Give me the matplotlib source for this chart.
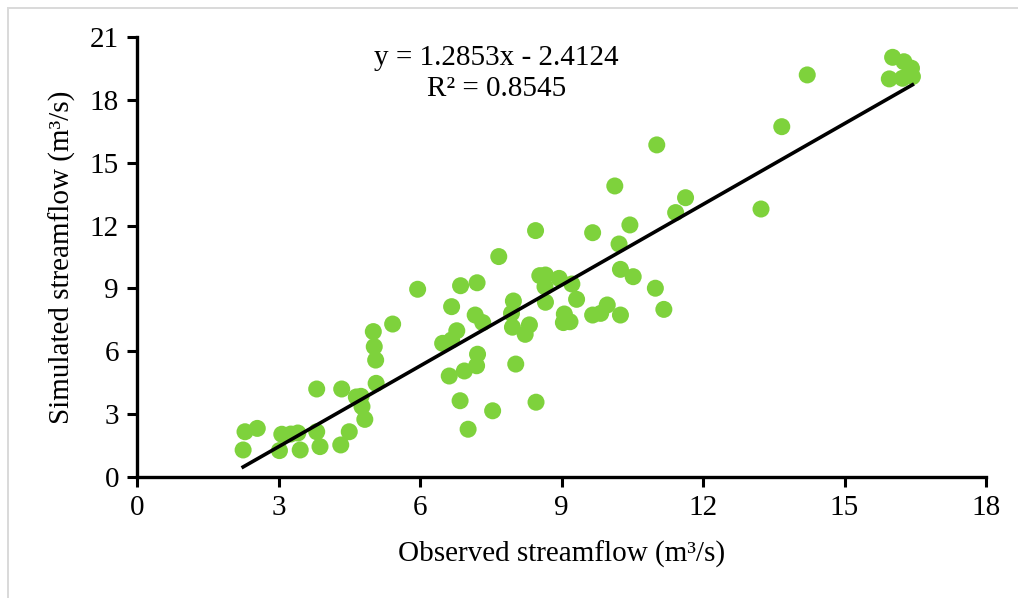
import matplotlib
matplotlib.use("Agg")
import matplotlib.pyplot as plt
from matplotlib.patches import Rectangle
import numpy as np

# observed vs simulated streamflow (m3/s)
observed = [2.25, 2.29, 2.55, 3.02, 3.07, 3.26, 3.41, 3.46, 3.81, 3.81,
            3.88, 4.34, 4.32, 4.50, 4.65, 4.75, 4.77, 4.83, 5.01, 5.03,
            5.06, 5.07, 5.42, 5.95, 6.48, 6.67, 6.62, 6.67, 6.78, 6.86,
            6.85, 7.02, 6.94, 7.22, 7.20, 7.21, 7.17, 7.33, 7.54, 7.67,
            8.03, 7.98, 7.94, 7.96, 8.23, 8.32, 8.45, 8.46, 8.54, 8.66,
            8.65, 8.66, 8.95, 9.22, 9.32, 9.06, 9.04, 9.18, 9.66, 9.66,
            9.83, 9.97, 10.13, 10.22, 10.25, 10.25, 10.45, 10.52, 10.99, 11.02,
            11.17, 11.42, 11.63, 13.23, 13.67, 14.21, 15.95, 16.02, 16.23, 16.26,
            16.42, 16.44]
simulated = [1.29, 2.16, 2.32, 1.26, 2.04, 2.05, 2.10, 1.29, 4.20, 2.16,
             1.45, 4.20, 1.53, 2.16, 3.82, 3.85, 3.36, 2.75, 6.94, 6.22,
             5.58, 4.47, 7.30, 8.96, 6.38, 6.54, 4.82, 8.13, 6.98, 9.13,
             3.64, 2.28, 5.06, 5.86, 5.31, 9.27, 7.73, 7.37, 3.16, 10.52,
             5.39, 8.40, 7.81, 7.15, 6.81, 7.26, 11.76, 3.57, 9.61, 9.64,
             9.08, 8.34, 9.48, 9.21, 8.48, 7.78, 7.37, 7.41, 11.66, 7.73,
             7.81, 8.21, 13.89, 11.12, 9.91, 7.73, 12.03, 9.56, 9.01, 15.85,
             8.00, 12.62, 13.33, 12.79, 16.72, 19.19, 19.00, 20.03, 19.03, 19.82,
             19.51, 19.11]

slope = 1.2853
intercept = -2.4124
r2 = 0.8545
x_ticks = [0, 3, 6, 9, 12, 15, 18]
y_ticks = [0, 3, 6, 9, 12, 15, 18, 21]

plt.rcParams['font.family'] = ['Liberation Serif', 'DejaVu Serif']
fs = 21

fig = plt.figure(figsize=(10.18, 5.98), dpi=100)
# light outer frame (only left and top edges are inside the picture)
fig.patches.append(Rectangle((8 / 1018, -0.1), 1.2, 1 - 8 / 598 + 0.1,
                             transform=fig.transFigure, fill=False,
                             edgecolor='#D9D9D9', linewidth=1.4))
ax = fig.add_axes([137 / 1018, 1 - 477 / 598, (986 - 137) / 1018, (477 - 37) / 598])

ax.scatter(observed, simulated, s=150, color='#7ED23C', edgecolors='none', zorder=2)

xs = np.array([min(observed), max(observed)])
ax.plot(xs, slope * xs + intercept, color='black', linewidth=2.6, zorder=3)

ax.set_xlim(0, 18)
ax.set_ylim(0, 21)
ax.set_xticks(x_ticks)
ax.set_yticks(y_ticks)
ax.tick_params(axis='both', direction='out', length=7, width=2.2, labelsize=fs, pad=6)

for side in ['top', 'right']:
    ax.spines[side].set_visible(False)
for side in ['left', 'bottom']:
    ax.spines[side].set_linewidth(2.4)

ax.set_xlabel('Observed streamflow (m³/s)', fontsize=fs, labelpad=14)
ax.set_ylabel('Simulated streamflow (m³/s)', fontsize=fs, labelpad=10)

ax.text(0.423, 0.918, f'y = {slope}x - {abs(intercept)}\nR² = {r2}',
        transform=ax.transAxes, ha='center', va='center', fontsize=fs,
        linespacing=1.25)

fig.savefig('out.png', dpi=100)
